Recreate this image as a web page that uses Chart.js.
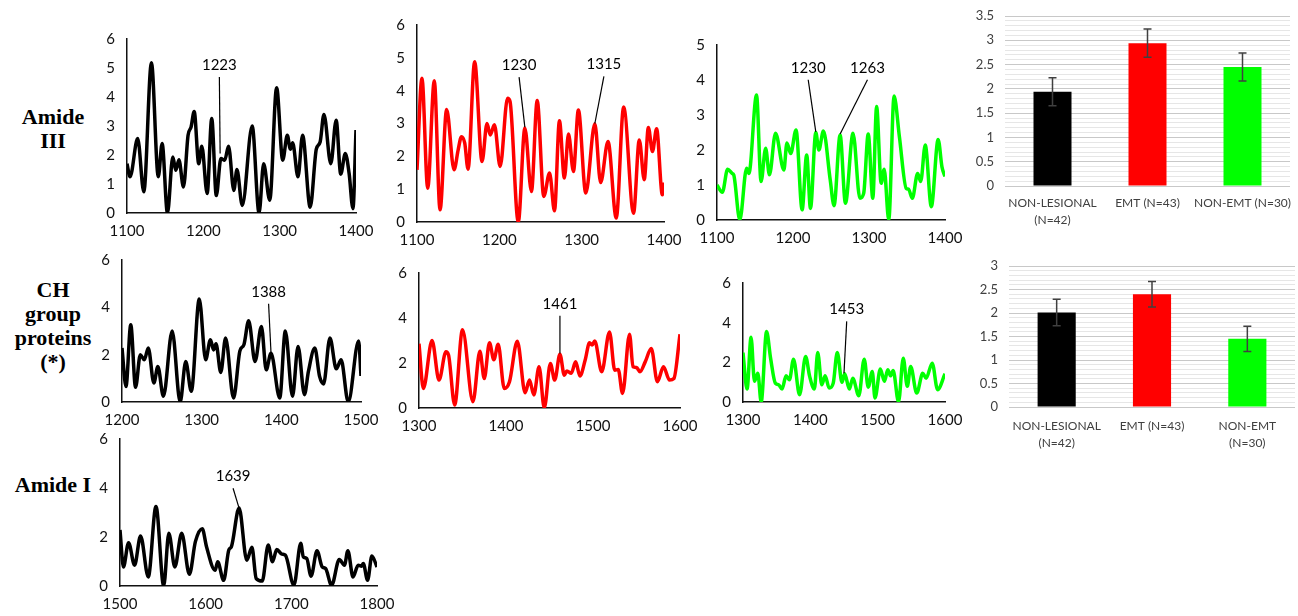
<!DOCTYPE html>
<html>
<head>
<meta charset="utf-8">
<script src="https://cdn.jsdelivr.net/npm/chart.js@4"></script>
<style>
  body { margin: 0; background: #fff; width: 1298px; height: 616px; position: relative; overflow: hidden; font-family: Lato, sans-serif; }
  canvas { position: absolute; }
  .row { position: absolute; left: 0; width: 106px; text-align: center; font: bold 22px 'Liberation Serif', serif; line-height: 24px; color: #000; }
</style>
</head>
<body>
<div class="row" style="top:105px">Amide<br>III</div>
<div class="row" style="top:278px">CH<br>group<br>proteins<br>(*)</div>
<div class="row" style="top:473px">Amide I</div>

<script>
'use strict';

// Amide III region (1100-1400)
const amide3NonLesionalWn = [1100,1104,1114,1122,1132,1141,1146,1153,1160,1164,1168,1174,1180,1184,1188,1194,1198,1205,1211,1217,1223,1228,1233,1240,1244,1251,1264,1273,1279,1287,1296,1304,1310,1314,1317,1324,1330,1340,1348,1353,1358,1367,1374,1380,1386,1391,1396,1400];
const amide3NonLesionalInt = [1.7,1.25,2.57,0.73,5.18,1.25,2.4,0,1.93,1.47,1.84,0.9,2.68,2.97,3.5,1.7,2.3,0.67,3.26,0.6,1.88,1.82,2.3,0.78,1.5,0.26,3.0,0,1.7,0.44,4.32,1.82,2.68,2.2,2.42,1.25,2.68,0.2,2.2,2.45,3.4,1.7,3.2,1.34,2.05,1.36,0.15,2.86];

const amide3EmtWn = [1100,1106,1113,1121,1128,1136,1145,1150,1154,1158,1162,1170,1179,1185,1189,1194,1201,1210,1213,1223,1231,1239,1246,1254,1261,1267,1273,1279,1284,1290,1296,1305,1316,1323,1332,1342,1351,1363,1370,1376,1381,1386,1391,1398,1400];
const amide3EmtInt = [1.59,4.38,1.03,4.3,0.37,3.43,1.59,2.2,2.6,2.4,1.61,4.88,1.84,3.0,2.65,2.96,1.69,3.77,3.67,0,2.86,0.93,3.7,0.78,1.49,0.34,3.08,1.34,2.68,1.54,3.41,0.88,2.99,1.2,2.45,0.12,3.5,0.27,2.5,1.29,2.88,2.15,2.84,0.83,1.2];

const amide3NonEmtWn = [1100,1107,1114,1120,1122,1130,1139,1142,1152,1158,1164,1169,1177,1188,1192,1197,1204,1212,1218,1223,1230,1234,1240,1249,1254,1262,1269,1279,1288,1293,1299,1305,1310,1316,1320,1326,1333,1340,1349,1352,1357,1364,1368,1374,1382,1391,1396,1400];
const amide3NonEmtInt = [1.0,0.79,1.45,1.33,1.29,0,1.48,1.33,3.57,1.1,2.05,1.29,2.48,1.43,2.2,1.9,2.57,0.29,1.86,0.33,2.5,2.0,2.54,1.14,0.41,2.43,0.48,2.48,0.62,0.76,2.46,0.62,3.24,1.05,1.45,0,3.54,2.38,0.9,0.88,0.62,1.33,1.1,2.14,0.38,2.3,1.52,1.24];

// CH group proteins
const chNonLesionalWn = [1200,1205,1211,1217,1223,1228,1233,1240,1245,1252,1263,1273,1280,1287,1297,1305,1311,1315,1318,1324,1330,1340,1348,1353,1359,1367,1375,1381,1387,1398,1405,1414,1421,1429,1434,1442,1448,1453,1461,1469,1475,1484,1497,1500];
const chNonLesionalInt = [2.28,0.66,3.26,0.62,2.0,1.78,2.28,0.8,1.5,0.24,3.0,0,1.71,0.45,4.35,1.78,2.63,2.2,2.46,1.25,2.7,0.17,2.16,2.42,3.43,1.71,3.19,1.36,2.06,0.17,3.0,0.24,2.35,0.31,1.29,2.28,1.08,0.76,2.7,1.4,1.78,0,2.58,1.1];

const chEmtWn = [1300,1305,1315,1323,1331,1334,1341,1350,1362,1370,1375,1381,1386,1391,1398,1404,1413,1422,1427,1432,1438,1444,1451,1456,1462,1467,1470,1475,1480,1485,1491,1496,1499,1502,1510,1519,1525,1529,1534,1542,1546,1550,1554,1560,1567,1574,1581,1588,1593,1600];
const chEmtInt = [2.86,0.87,3.0,1.24,2.5,2.35,0.13,3.48,0.28,2.52,1.31,2.9,2.15,2.83,0.87,1.17,2.97,0.68,1.24,0.58,1.83,0,1.98,1.24,2.39,1.46,1.65,1.54,2.05,1.42,2.13,2.9,2.8,2.98,1.61,3.38,1.68,1.71,0.65,3.28,1.83,1.8,1.61,2.05,2.64,1.17,1.83,1.24,1.31,3.28];

const chNonEmtWn = [1300,1306,1312,1317,1322,1327,1335,1341,1348,1353,1358,1364,1369,1375,1384,1393,1399,1406,1411,1417,1422,1428,1434,1440,1447,1451,1458,1463,1472,1480,1486,1492,1496,1504,1510,1515,1519,1523,1531,1538,1544,1549,1558,1567,1572,1581,1589,1600];
const chNonEmtInt = [2.49,0.65,3.26,1.04,1.45,0,3.55,2.2,0.95,0.87,0.65,1.32,1.12,2.16,0.37,2.29,1.29,0.65,2.49,0.87,1.32,0.7,0.95,2.49,0.99,1.42,0.65,1.2,0.32,2.16,0.75,1.54,0.2,1.66,1.04,1.62,1.32,1.59,0,2.2,0.79,1.79,0.45,1.45,1.2,1.96,0.62,1.42];

// Amide I region (1500-1800)
const amide1NonLesionalWn = [1500,1504,1510,1517,1524,1533,1542,1551,1557,1564,1572,1581,1588,1596,1601,1611,1614,1621,1627,1630,1639,1648,1654,1659,1666,1673,1678,1683,1689,1693,1703,1711,1714,1718,1723,1730,1736,1740,1747,1756,1762,1766,1772,1778,1782,1784,1789,1794,1800];
const amide1NonLesionalInt = [2.29,0.78,1.77,0.85,2.04,0.37,3.25,0,2.15,0.78,2.15,0.48,1.81,2.34,1.6,0.64,0.99,0.23,1.47,1.6,3.18,1.05,1.58,0.3,0.2,1.67,0.99,1.49,1.3,1.26,0.03,1.74,1.19,1.12,0.4,1.44,0.78,0.71,0.03,1.08,0.85,1.44,0.37,0.85,0.81,0.92,0.23,1.22,0.78];

// labelled peaks: tip = point on the curve, text = where the number sits
const amide3NonLesionalMarks = [{ label: '1223', tipWn: 1222, tipY: 2.05, textWn: 1221, textY: 5.1 }];
const amide3EmtMarks = [
  { label: '1230', tipWn: 1231, tipY: 2.89, textWn: 1224, textY: 4.78 },
  { label: '1315', tipWn: 1316, tipY: 3.0, textWn: 1327, textY: 4.8 },
];
const amide3NonEmtMarks = [
  { label: '1230', tipWn: 1230, tipY: 2.52, textWn: 1220, textY: 4.35 },
  { label: '1263', tipWn: 1262, tipY: 2.46, textWn: 1298, textY: 4.35 },
];
const chNonLesionalMarks = [{ label: '1388', tipWn: 1387, tipY: 2.1, textWn: 1384, textY: 4.66 }];
const chEmtMarks = [{ label: '1461', tipWn: 1462, tipY: 2.42, textWn: 1462, textY: 4.63 }];
const chNonEmtMarks = [{ label: '1453', tipWn: 1450, tipY: 1.45, textWn: 1454, textY: 4.67 }];
const amide1NonLesionalMarks = [{ label: '1639', tipWn: 1639, tipY: 3.18, textWn: 1632, textY: 4.48 }];

// bar charts: group means and standard errors
const groupColors = ['#000000', '#ff0000', '#00ff00'];
const amide3Groups = [['NON-LESIONAL', '(N=42)'], 'EMT (N=43)', 'NON-EMT (N=30)'];
const amide3Means = [1.94, 2.94, 2.45];
const amide3Errors = [0.29, 0.29, 0.29];
const chGroups = [['NON-LESIONAL', '(N=42)'], 'EMT (N=43)', ['NON-EMT', '(N=30)']];
const chMeans = [2.01, 2.4, 1.45];
const chErrors = [0.28, 0.27, 0.27];

const Y_AXIS_W = 40;

const peakMarks = {
  id: 'peakMarks',
  afterDatasetsDraw(chart, args, opts) {
    const { ctx, scales: { x, y } } = chart;
    (opts.marks || []).forEach((m) => {
      const tx = x.getPixelForValue(m.textWn);
      const ty = y.getPixelForValue(m.textY);
      const px = x.getPixelForValue(m.tipWn);
      const py = y.getPixelForValue(m.tipY);
      ctx.save();
      ctx.font = '15px Lato';
      ctx.fillStyle = '#000';
      ctx.textAlign = 'center';
      ctx.textBaseline = 'middle';
      ctx.fillText(m.label, tx, ty);
      ctx.strokeStyle = '#000';
      ctx.lineWidth = 1.2;
      ctx.beginPath();
      ctx.moveTo(tx, ty + 12);
      ctx.lineTo(px, py);
      ctx.stroke();
      ctx.restore();
    });
  },
};

const errorBars = {
  id: 'errorBars',
  afterDatasetsDraw(chart, args, opts) {
    const { ctx, scales: { y } } = chart;
    const means = chart.data.datasets[0].data;
    chart.getDatasetMeta(0).data.forEach((bar, i) => {
      const top = y.getPixelForValue(means[i] + opts.errors[i]);
      const bot = y.getPixelForValue(means[i] - opts.errors[i]);
      ctx.save();
      ctx.strokeStyle = '#404040';
      ctx.lineWidth = 1.5;
      ctx.beginPath();
      ctx.moveTo(bar.x, top);
      ctx.lineTo(bar.x, bot);
      ctx.moveTo(bar.x - 4, top);
      ctx.lineTo(bar.x + 4, top);
      ctx.moveTo(bar.x - 4, bot);
      ctx.lineTo(bar.x + 4, bot);
      ctx.stroke();
      ctx.restore();
    });
  },
};

function place(box, padTop, padRight, xAxisH) {
  const c = document.createElement('canvas');
  c.width = box.R - box.L + Y_AXIS_W + padRight;
  c.height = box.B - box.T + padTop + xAxisH;
  c.style.left = box.L - Y_AXIS_W + 'px';
  c.style.top = box.T - padTop + 'px';
  document.body.appendChild(c);
  return c;
}

function spectrum(box, wn, vals, color, range, yMax, yStep, marks) {
  const canvas = place(box, 12, 24, 30);
  const tickFont = { family: 'Lato', size: 15 };
  new Chart(canvas, {
    type: 'line',
    data: {
      datasets: [{
        data: wn.map((w, i) => ({ x: w, y: vals[i] })),
        borderColor: color,
        borderWidth: 3.5,
        pointRadius: 0,
        cubicInterpolationMode: 'monotone',
        fill: false,
      }],
    },
    options: {
      responsive: false,
      animation: false,
      layout: { padding: { top: 12, right: 24, left: 0, bottom: 0 } },
      plugins: { legend: { display: false }, tooltip: { enabled: false }, peakMarks: { marks } },
      scales: {
        x: {
          type: 'linear',
          min: range[0],
          max: range[1],
          grid: { display: false, drawTicks: false },
          border: { display: true, color: '#111', width: 1.5 },
          ticks: { stepSize: 100, font: tickFont, color: '#111', padding: 9, maxRotation: 0, callback: (v) => String(v) },
          afterFit: (s) => { s.height = 30; s.paddingLeft = 0; s.paddingRight = 0; },
        },
        y: {
          min: 0,
          max: yMax,
          grid: { display: false, drawTicks: false },
          border: { display: true, color: '#111', width: 1.5 },
          ticks: { stepSize: yStep, font: tickFont, color: '#111', padding: 12 },
          afterFit: (s) => { s.width = Y_AXIS_W; s.paddingTop = 0; s.paddingBottom = 0; },
        },
      },
    },
    plugins: [peakMarks],
  });
}

const isMajor = (v) => Math.abs(v * 2 - Math.round(v * 2)) < 1e-6;

function groupBars(box, labels, means, errors, yMax, labelPad) {
  const padRight = Math.min(8, 1298 - box.R);
  const canvas = place(box, 10, padRight, 50);
  const grey = '#404040';
  new Chart(canvas, {
    type: 'bar',
    data: {
      labels,
      datasets: [{ data: means, backgroundColor: groupColors, barPercentage: 0.4, categoryPercentage: 1 }],
    },
    options: {
      responsive: false,
      animation: false,
      layout: { padding: { top: 10, right: padRight, left: 0, bottom: 0 } },
      plugins: { legend: { display: false }, tooltip: { enabled: false }, errorBars: { errors } },
      scales: {
        x: {
          grid: { display: false, drawTicks: false },
          border: { display: false },
          ticks: { font: { family: 'Lato', size: 12, lineHeight: 1.4 }, color: grey, padding: labelPad, maxRotation: 0, autoSkip: false },
          afterFit: (s) => { s.height = 50; s.paddingLeft = 0; s.paddingRight = 0; },
        },
        y: {
          min: 0,
          max: yMax,
          border: { display: false },
          grid: {
            drawTicks: false,
            color: (ctx) => (isMajor(ctx.tick.value) ? '#c8c8c8' : '#e6e6e6'),
          },
          ticks: {
            stepSize: 0.1,
            maxTicksLimit: 100,
            autoSkip: false,
            font: { family: 'Lato', size: 13 },
            color: grey,
            padding: 11,
            callback: (v) => (isMajor(v) ? String(Math.round(v * 10) / 10) : ''),
          },
          afterFit: (s) => { s.width = Y_AXIS_W; s.paddingTop = 0; s.paddingBottom = 0; },
        },
      },
    },
    plugins: [errorBars],
  });
}

spectrum({ L: 127, R: 356, T: 39, B: 213 }, amide3NonLesionalWn, amide3NonLesionalInt, '#000000', [1100, 1400], 6, 1, amide3NonLesionalMarks);
spectrum({ L: 417, R: 664, T: 25, B: 222 }, amide3EmtWn, amide3EmtInt, '#ff0000', [1100, 1400], 6, 1, amide3EmtMarks);
spectrum({ L: 717, R: 945, T: 45, B: 220 }, amide3NonEmtWn, amide3NonEmtInt, '#00ff00', [1100, 1400], 5, 1, amide3NonEmtMarks);

spectrum({ L: 122, R: 361, T: 260, B: 402 }, chNonLesionalWn, chNonLesionalInt, '#000000', [1200, 1500], 6, 2, chNonLesionalMarks);
spectrum({ L: 419, R: 680, T: 273, B: 408 }, chEmtWn, chEmtInt, '#ff0000', [1300, 1600], 6, 2, chEmtMarks);
spectrum({ L: 743, R: 945, T: 283, B: 402 }, chNonEmtWn, chNonEmtInt, '#00ff00', [1300, 1600], 6, 2, chNonEmtMarks);

spectrum({ L: 120, R: 377, T: 439, B: 586 }, amide1NonLesionalWn, amide1NonLesionalInt, '#000000', [1500, 1800], 6, 2, amide1NonLesionalMarks);

groupBars({ L: 1005, R: 1290, T: 16, B: 186 }, amide3Groups, amide3Means, amide3Errors, 3.5, 9);
groupBars({ L: 1009, R: 1295, T: 266, B: 407 }, chGroups, chMeans, chErrors, 3, 11);
</script>
</body>
</html>
